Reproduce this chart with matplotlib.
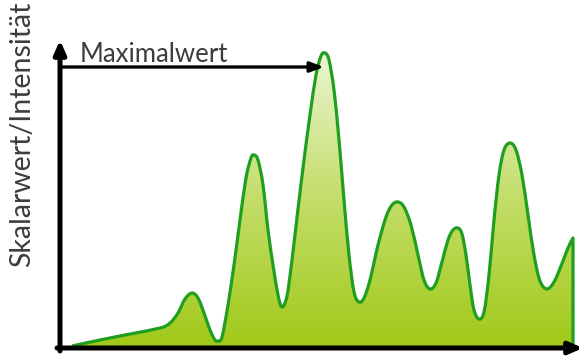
import numpy as np
import matplotlib.pyplot as plt
from matplotlib.colors import LinearSegmentedColormap
from matplotlib.patches import PathPatch
from matplotlib.path import Path

# curve: position (x) and intensity above the axis
pos = [72, 100, 130, 160, 170, 178, 185, 192, 198, 204, 210, 215, 218, 222,
       228, 234, 240, 246, 251, 254, 258, 263, 268, 273, 278, 282,
       287, 292, 298, 304, 310, 316, 321, 325, 329, 334, 339, 344, 349, 354,
       359, 364, 370, 378, 386, 392, 398, 404, 411, 418, 424, 430,
       436, 442, 448, 453, 458, 462, 466, 470, 474, 479,
       484, 489, 494, 499, 504, 510, 516, 522, 528, 534, 540, 547,
       554, 561, 568, 573]
row = [346, 340, 334, 328, 323, 313, 299, 293, 298, 313, 330, 340, 341, 337,
       305, 265, 220, 178, 158, 155, 160, 185, 230, 265, 295, 307,
       296, 260, 209, 160, 115, 75, 56, 53, 60, 90, 140, 200, 255, 292,
       302, 298, 280, 245, 217, 205, 202, 207, 225, 255, 280, 289,
       283, 262, 240, 230, 228, 234, 255, 285, 310, 319,
       312, 275, 220, 175, 150, 143, 150, 175, 215, 255, 281, 289,
       282, 266, 248, 238]
base_row = 348
intensity = [base_row - r for r in row]

ylabel = "Skalarwert/Intensität"
max_label = "Maximalwert"


def smooth_path(x, y):
    # Catmull-Rom through the read points, drawn as cubic Bezier pieces
    p = np.column_stack([x, y]).astype(float)
    verts = [p[0]]
    codes = [Path.MOVETO]
    n = len(p)
    for i in range(n - 1):
        p0 = p[max(i - 1, 0)]
        p3 = p[min(i + 2, n - 1)]
        c1 = p[i] + (p[i + 1] - p0) / 6
        c2 = p[i + 1] - (p3 - p[i]) / 6
        verts += [c1, c2, p[i + 1]]
        codes += [Path.CURVE4] * 3
    return verts, codes


fig = plt.figure(figsize=(5.79, 3.6), dpi=100)
ax = fig.add_axes([0, 0, 1, 1])
ax.set_xlim(0, 579)
ax.set_ylim(base_row - 360, base_row)
ax.axis('off')

verts, codes = smooth_path(pos, intensity)

# gradient fill under the curve
fill_verts = verts + [(pos[-1], 0), (pos[0], 0), verts[0]]
fill_codes = codes + [Path.LINETO, Path.LINETO, Path.CLOSEPOLY]
fill = PathPatch(Path(fill_verts, fill_codes), facecolor='none', edgecolor='none')
ax.add_patch(fill)
cmap = LinearSegmentedColormap.from_list('g', ['#a0c918', '#c3dd68', '#ebf5d2'])
grad = np.linspace(0, 1, 256).reshape(-1, 1)
im = ax.imshow(grad, extent=[pos[0], pos[-1] + 2, 0, max(intensity)], origin='lower',
               aspect='auto', cmap=cmap, zorder=1)
im.set_clip_path(fill)

line_verts = verts + [(pos[-1], 0)]
line_codes = codes + [Path.LINETO]
ax.add_patch(PathPatch(Path(line_verts, line_codes), facecolor='none',
                       edgecolor='#1f9e1f', lw=2.3, zorder=3, joinstyle='round'))

ax.set_xlim(0, 579)
ax.set_ylim(base_row - 360, base_row)

# axes with arrows
arrow = dict(arrowstyle='-|>,head_length=0.8,head_width=0.35', color='black',
             lw=3.6, shrinkA=0, shrinkB=0)
ax.annotate('', xy=(60, 348 - 40), xytext=(60, -3), arrowprops=arrow,
            annotation_clip=False, zorder=5)
ax.annotate('', xy=(583, 0), xytext=(57, 0), arrowprops=arrow,
            annotation_clip=False, zorder=5)
ax.annotate('', xy=(324, 348 - 67), xytext=(60, 348 - 67),
            arrowprops=dict(arrowstyle='-|>,head_length=0.8,head_width=0.3',
                            color='black', lw=2.4, shrinkA=0, shrinkB=0),
            annotation_clip=False, zorder=5)

ax.text(80, 348 - 62, max_label, fontsize=18.5, family='Lato',
        color='#3c3c3c', ha='left', va='baseline')
ax.text(22, 348 - 134, ylabel, fontsize=20.5, family='Lato',
        color='#3c3c3c', rotation=90, ha='center', va='center')

fig.savefig('out.png', dpi=100, facecolor='white')
